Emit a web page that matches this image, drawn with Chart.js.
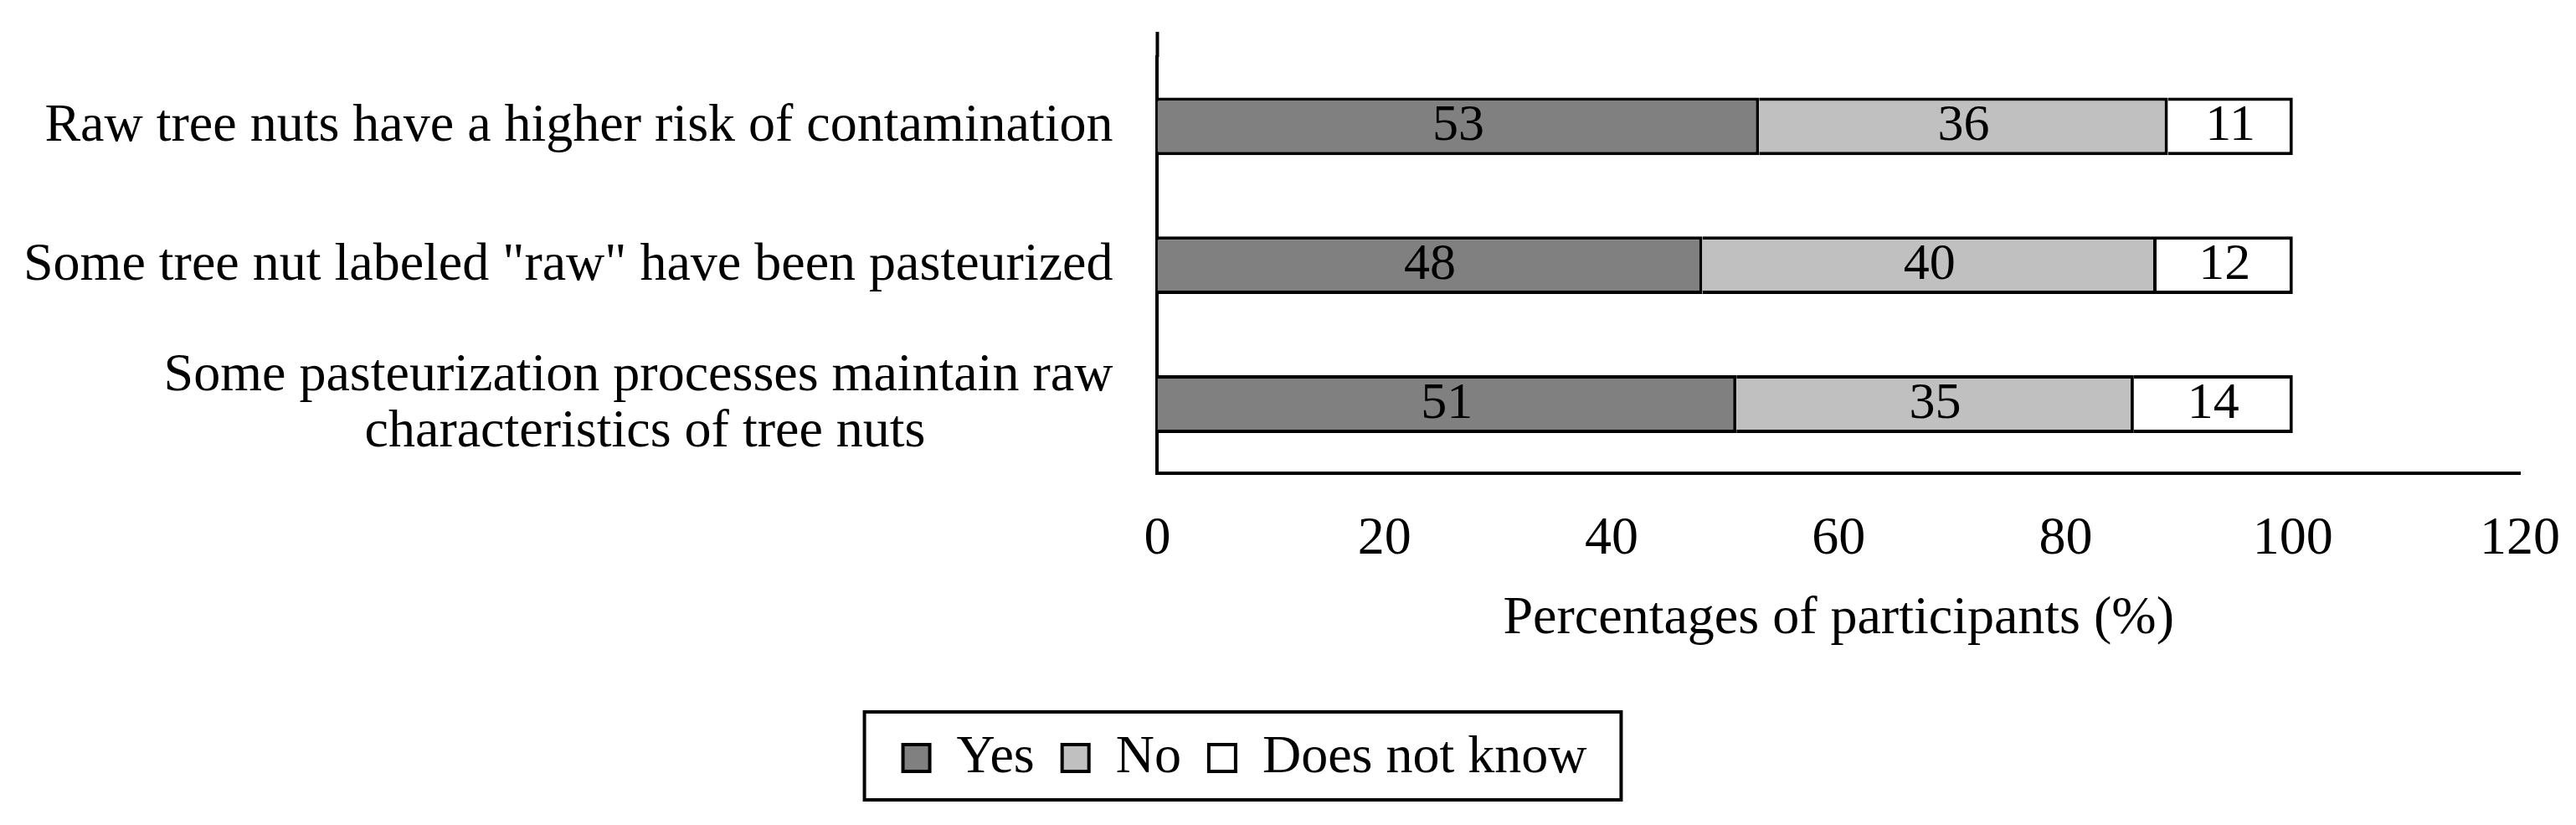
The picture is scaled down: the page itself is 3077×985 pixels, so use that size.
<!DOCTYPE html>
<html>
<head>
<meta charset="utf-8">
<title>Raw tree nuts - participants</title>
<script src="https://cdn.jsdelivr.net/npm/chart.js@4.4.1/dist/chart.umd.min.js"></script>
<style>
    html, body { margin: 0; padding: 0; background: #fff; }
    #chart-box { width: 3077px; height: 985px; position: relative; }
</style>
</head>
<body>
<div id="chart-box"><canvas id="nutsChart"></canvas></div>
<script>
// Categories (third label wraps on two lines)
const categories = [
    'Raw tree nuts have a higher risk of contamination',
    'Some tree nut labeled "raw" have been pasteurized',
    ['Some pasteurization processes maintain raw', 'characteristics of tree nuts']
];

// Series names and values (%)
const seriesNames = ['Yes', 'No', 'Does not know'];
const yesValues = [53, 48, 51];
const noValues = [36, 40, 35];
const dontKnowValues = [11, 12, 14];

// X axis ticks
const xMin = 0;
const xMax = 120;
const xStep = 20;
const xTitle = 'Percentages of participants (%)';

const FONT_FAMILY = "'Liberation Serif', 'Times New Roman', serif";
const AXIS_OVERHANG = 30;   // y axis line goes a little above the plot
const LEGEND_SHIFT = -32;

Chart.defaults.font.family = FONT_FAMILY;
Chart.defaults.color = '#000';

// center the lines of a wrapped label (label block stays right aligned)
const measureCtx = document.createElement('canvas').getContext('2d');
function centerLines(label) {
    if (!Array.isArray(label)) return label;
    measureCtx.font = '64px ' + FONT_FAMILY;
    const widths = label.map(l => measureCtx.measureText(l).width);
    const maxW = Math.max(...widths);
    const spaceW = measureCtx.measureText(' ').width;
    return label.map((l, i) => l + ' '.repeat(Math.round((maxW - widths[i]) / 2 / spaceW)));
}

// values written in the middle of every segment
const barValueLabels = {
    id: 'barValueLabels',
    afterDatasetsDraw(chart) {
        const ctx = chart.ctx;
        ctx.save();
        ctx.font = '62px ' + FONT_FAMILY;
        ctx.fillStyle = '#000';
        ctx.textAlign = 'center';
        ctx.textBaseline = 'middle';
        chart.data.datasets.forEach((ds, i) => {
            chart.getDatasetMeta(i).data.forEach((bar, j) => {
                const p = bar.getCenterPoint();
                ctx.fillText(ds.data[j], p.x, p.y);
            });
        });
        ctx.restore();
    }
};

// legend frame + y axis overhang
const frameExtras = {
    id: 'frameExtras',
    afterLayout(chart) {
        const lg = chart.legend;
        lg.left += LEGEND_SHIFT;
        lg.right += LEGEND_SHIFT;
        (lg.legendHitBoxes || []).forEach(b => { b.left += LEGEND_SHIFT; });
    },
    afterDraw(chart) {
        const ctx = chart.ctx;
        const area = chart.chartArea;
        ctx.save();
        ctx.strokeStyle = '#000';
        ctx.lineWidth = 4;

        ctx.beginPath();
        ctx.moveTo(area.left, area.top - AXIS_OVERHANG);
        ctx.lineTo(area.left, area.top);
        ctx.stroke();

        const boxes = chart.legend.legendHitBoxes;
        if (boxes && boxes.length) {
            const first = boxes[0];
            const last = boxes[boxes.length - 1];
            const x1 = first.left - 46;
            const x2 = last.left + last.width + 41;
            const y1 = first.top - 23;
            const y2 = first.top + first.height + 18;
            ctx.strokeRect(x1, y1, x2 - x1, y2 - y1);
        }
        ctx.restore();
    }
};

const ctx = document.getElementById('nutsChart').getContext('2d');

new Chart(ctx, {
    type: 'bar',
    data: {
        labels: categories,
        datasets: [
            {
                label: seriesNames[0],
                data: yesValues,
                backgroundColor: '#808080',
                borderColor: '#000',
                borderWidth: 4
            },
            {
                label: seriesNames[1],
                data: noValues,
                backgroundColor: '#c0c0c0',
                borderColor: '#000',
                borderWidth: 4
            },
            {
                label: seriesNames[2],
                data: dontKnowValues,
                backgroundColor: '#ffffff',
                borderColor: '#000',
                borderWidth: 4
            }
        ]
    },
    options: {
        indexAxis: 'y',
        responsive: true,
        maintainAspectRatio: false,
        animation: false,
        categoryPercentage: 1,
        barPercentage: 0.415,
        layout: {
            padding: { left: 28, right: 67, top: 68, bottom: 38 }
        },
        plugins: {
            legend: {
                position: 'bottom',
                labels: {
                    boxWidth: 32,
                    boxHeight: 32,
                    padding: 33,
                    color: '#000',
                    font: { size: 64, lineHeight: 1 }
                }
            },
            tooltip: { enabled: false }
        },
        scales: {
            x: {
                stacked: true,
                min: xMin,
                max: xMax,
                grid: {
                    display: false,
                    drawTicks: true,
                    tickLength: 40
                },
                border: { display: true, color: '#000', width: 4 },
                ticks: {
                    stepSize: xStep,
                    padding: 0,
                    color: '#000',
                    font: { size: 64 }
                },
                title: {
                    display: true,
                    text: xTitle,
                    color: '#000',
                    font: { size: 64 },
                    padding: { top: 19, bottom: 62 }
                }
            },
            y: {
                stacked: true,
                grid: {
                    display: false,
                    drawTicks: true,
                    tickLength: 53
                },
                border: { display: true, color: '#000', width: 4 },
                ticks: {
                    padding: 0,
                    color: '#000',
                    font: { size: 64, lineHeight: 1.05 },
                    callback: function(value) {
                        return centerLines(this.getLabelForValue(value));
                    }
                }
            }
        }
    },
    plugins: [barValueLabels, frameExtras]
});
</script>
</body>
</html>
